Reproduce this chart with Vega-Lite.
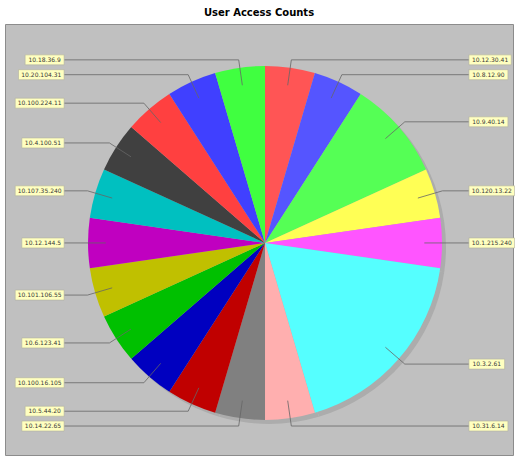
{
  "$schema": "https://vega.github.io/schema/vega-lite/v6.json",
  "width": 508,
  "height": 431,
  "autosize": {"type": "none"},
  "padding": {"left": 5, "top": 24, "right": 5, "bottom": 6},
  "background": "white",
  "title": {"text": "User Access Counts", "font": "DejaVu Sans", "fontSize": 10, "fontWeight": "bold", "color": "#000000", "anchor": "middle", "offset": 6},
  "config": {"view": {"fill": "#c0c0c0", "stroke": "#8c8c8c", "strokeWidth": 1}},
  "data": {"values": [
    {"ip": "10.12.30.41", "count": 1},
    {"ip": "10.8.12.90", "count": 1},
    {"ip": "10.9.40.14", "count": 2},
    {"ip": "10.120.13.22", "count": 1},
    {"ip": "10.1.215.240", "count": 1},
    {"ip": "10.3.2.61", "count": 4},
    {"ip": "10.31.6.14", "count": 1},
    {"ip": "10.14.22.65", "count": 1},
    {"ip": "10.5.44.20", "count": 1},
    {"ip": "10.100.16.105", "count": 1},
    {"ip": "10.6.123.41", "count": 1},
    {"ip": "10.101.106.55", "count": 1},
    {"ip": "10.12.144.5", "count": 1},
    {"ip": "10.107.35.240", "count": 1},
    {"ip": "10.4.100.51", "count": 1},
    {"ip": "10.100.224.11", "count": 1},
    {"ip": "10.20.104.31", "count": 1},
    {"ip": "10.18.36.9", "count": 1}
  ]},
  "transform": [
    {"window": [{"op": "row_number", "as": "i"}, {"op": "sum", "field": "count", "as": "cum"}], "frame": [null, 0]},
    {"joinaggregate": [{"op": "sum", "field": "count", "as": "total"}]},
    {"calculate": "2*PI*(datum.cum - datum.count/2)/datum.total", "as": "mid"},
    {"calculate": "sin(datum.mid) >= 0 ? 1 : -1", "as": "side"},
    {"calculate": "0.9*sin(datum.mid)", "as": "ax"},
    {"calculate": "0.9*cos(datum.mid)", "as": "ay"},
    {"calculate": "1.045*sin(datum.mid)", "as": "ex"},
    {"calculate": "1.045*cos(datum.mid)", "as": "ey"},
    {"calculate": "datum.side > 0 ? 1.152 : -1.135", "as": "tx"},
    {"calculate": "(length(datum.ip)*3.3 + 6)/177", "as": "bw"},
    {"calculate": "datum.side > 0 ? datum.tx : datum.tx - datum.bw", "as": "bx1"},
    {"calculate": "datum.side > 0 ? datum.tx + datum.bw : datum.tx", "as": "bx2"},
    {"calculate": "(datum.bx1 + datum.bx2)/2", "as": "bcx"},
    {"calculate": "datum.ey - 5/177", "as": "by1"},
    {"calculate": "datum.ey + 5/177", "as": "by2"}
  ],
  "layer": [
    {
      "mark": {"type": "arc", "outerRadius": 177, "fill": "#acacac", "xOffset": 4, "yOffset": 4},
      "encoding": {
        "theta": {"field": "count", "type": "quantitative", "stack": true},
        "order": {"field": "i", "type": "quantitative"},
        "x": {"datum": 0, "type": "quantitative", "scale": {"domain": [-1.469, 1.401], "zero": false, "nice": false}, "axis": null},
        "y": {"datum": 0, "type": "quantitative", "scale": {"domain": [-1.198, 1.237], "zero": false, "nice": false}, "axis": null}
      }
    },
    {
      "mark": {"type": "arc", "outerRadius": 177},
      "encoding": {
        "theta": {"field": "count", "type": "quantitative", "stack": true},
        "order": {"field": "i", "type": "quantitative"},
        "x": {"datum": 0, "type": "quantitative"},
        "y": {"datum": 0, "type": "quantitative"},
        "color": {"field": "ip", "type": "nominal", "legend": null,
          "scale": {
            "domain": ["10.12.30.41", "10.8.12.90", "10.9.40.14", "10.120.13.22", "10.1.215.240", "10.3.2.61", "10.31.6.14", "10.14.22.65", "10.5.44.20", "10.100.16.105", "10.6.123.41", "10.101.106.55", "10.12.144.5", "10.107.35.240", "10.4.100.51", "10.100.224.11", "10.20.104.31", "10.18.36.9"],
            "range": ["#FF5555", "#5555FF", "#55FF55", "#FFFF55", "#FF55FF", "#55FFFF", "#FFAFAF", "#808080", "#C00000", "#0000C0", "#00C000", "#C0C000", "#C000C0", "#00C0C0", "#404040", "#FF4040", "#4040FF", "#40FF40"]
          }}
      }
    },
    {
      "mark": {"type": "rule", "color": "#666666", "strokeWidth": 0.8},
      "encoding": {
        "x": {"field": "ax", "type": "quantitative"},
        "y": {"field": "ay", "type": "quantitative"},
        "x2": {"field": "ex"},
        "y2": {"field": "ey"}
      }
    },
    {
      "mark": {"type": "rule", "color": "#666666", "strokeWidth": 0.8},
      "encoding": {
        "x": {"field": "ex", "type": "quantitative"},
        "y": {"field": "ey", "type": "quantitative"},
        "x2": {"field": "tx"}
      }
    },
    {
      "mark": {"type": "rect", "fill": "#ffffc0", "stroke": "#b0b0a0", "strokeWidth": 0.6},
      "encoding": {
        "x": {"field": "bx1", "type": "quantitative"},
        "x2": {"field": "bx2"},
        "y": {"field": "by1", "type": "quantitative"},
        "y2": {"field": "by2"}
      }
    },
    {
      "mark": {"type": "text", "font": "DejaVu Sans", "fontSize": 6, "color": "#383838", "align": "center", "baseline": "middle"},
      "encoding": {
        "x": {"field": "bcx", "type": "quantitative"},
        "y": {"field": "ey", "type": "quantitative"},
        "text": {"field": "ip", "type": "nominal"}
      }
    }
  ]
}
